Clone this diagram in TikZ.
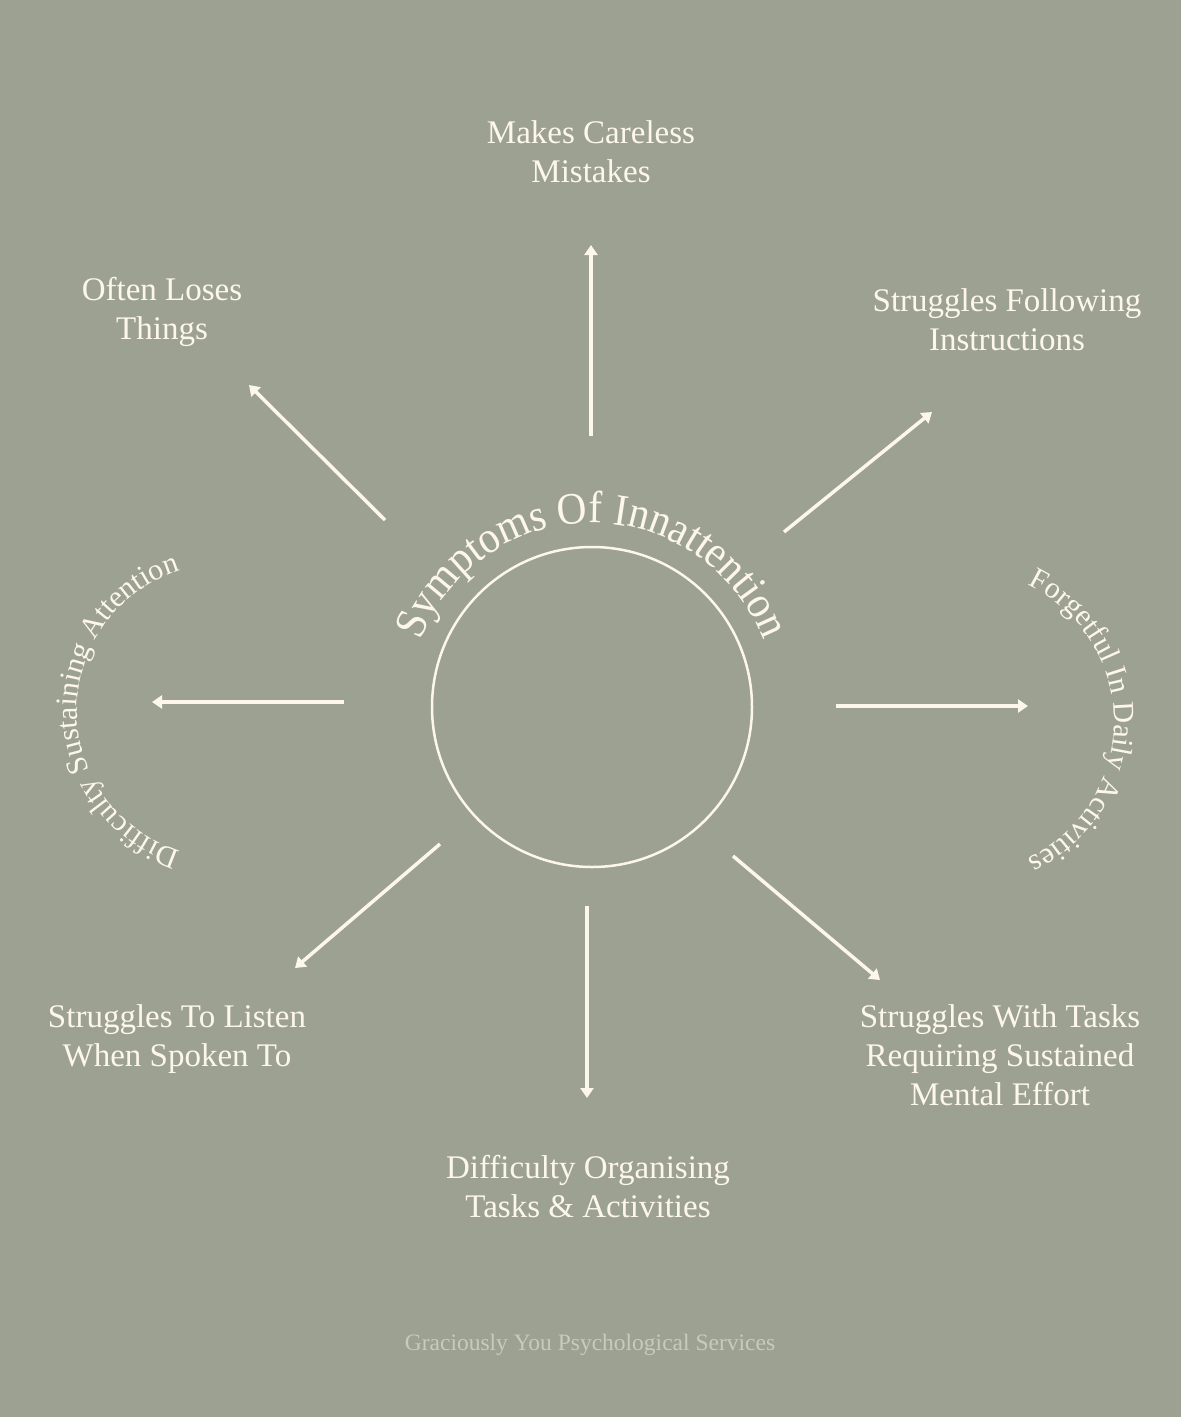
\documentclass[tikz,border=0pt]{standalone}
\usepackage{xcolor}
\usepackage{fontspec}
\setmainfont{Liberation Serif}
\newfontfamily\titlefont[FakeStretch=0.92]{Liberation Serif}
\usepackage{tikz}
\usetikzlibrary{arrows.meta, calc, decorations.text}

\definecolor{sage}{HTML}{9DA192}
\definecolor{cream}{HTML}{FDF6EC}
\definecolor{footgray}{HTML}{C8CABD}

\begin{document}
\begin{tikzpicture}[x=1pt, y=1pt,
    symptom/.style={text=cream, align=center, font=\fontsize{33}{39}\selectfont},
    pointer/.style={draw=cream, line width=3.5, -{Triangle[length=10,width=13]}}]
      \fill[sage] (0,0) rectangle (1181,-1417);
      \node[circle, draw=cream, line width=2.5, minimum size=320, inner sep=0] (hub) at (592,-707) {};
      % curved titles
      \path[decorate, decoration={text along path, text align=center,
          text={|\color{cream}\titlefont\fontsize{45}{45}\selectfont|Symptoms Of Innattention}}]
          ($(hub)+(161:184)$) arc[start angle=161, end angle=19, radius=184];
      \path[decorate, decoration={text along path, text align=center,
          text={|\color{cream}\fontsize{30}{30}\selectfont|Difficulty Sustaining Attention}}]
          ($(224,-711)+(253:147)$) arc[start angle=253, end angle=107, radius=147];
      \path[decorate, decoration={text along path, text align=center,
          text={|\color{cream}\fontsize{30}{30}\selectfont|Forgetful In Daily Activities}}]
          ($(962,-722)+(65:152)$) arc[start angle=65, end angle=-65, radius=152];
      % symptoms
      \node[symptom] (careless) at (591,-152) {Makes Careless\\Mistakes};
      \node[symptom] (loses) at (162,-312) {Often Loses\\Things};
      \node[symptom] (follow) at (1007,-320) {Struggles Following\\Instructions};
      \node[symptom] (listen) at (177,-1039) {Struggles To Listen\\When Spoken To};
      \node[symptom] (tasks) at (1000,-1055) {Struggles With Tasks\\Requiring Sustained\\Mental Effort};
      \node[symptom] (organise) at (588,-1187) {Difficulty Organising\\Tasks \& Activities};
      \node[text=footgray, font=\fontsize{23.5}{26}\selectfont] (footer) at (590,-1345) {Graciously You Psychological Services};
      % arrow ends
      \coordinate (nS) at (591,-436);  \coordinate (nE) at (591,-245);
      \coordinate (neS) at (784,-532); \coordinate (neE) at (932,-412);
      \coordinate (eS) at (836,-706);  \coordinate (eE) at (1028,-706);
      \coordinate (seS) at (733,-856); \coordinate (seE) at (880,-980);
      \coordinate (sS) at (587,-906);  \coordinate (sE) at (587,-1098);
      \coordinate (swS) at (440,-844); \coordinate (swE) at (295,-968);
      \coordinate (wS) at (344,-702);  \coordinate (wE) at (152,-702);
      \coordinate (nwS) at (385,-520); \coordinate (nwE) at (249,-385);
      \foreach \a in {n,ne,e,se,s,sw,w,nw}
        \draw[pointer] (\a S) -- (\a E);
    \end{tikzpicture}
\end{document}
